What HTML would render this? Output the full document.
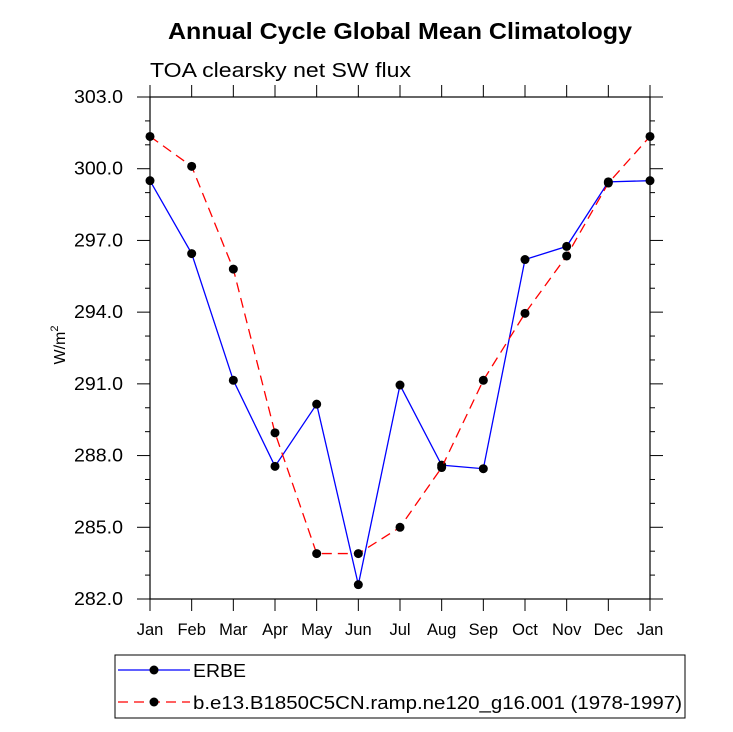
<!DOCTYPE html>
<html><head><meta charset="utf-8"><style>
body{margin:0;background:#fff;}
svg{font-family:"Liberation Sans",sans-serif;}
</style></head><body>
<svg id="chart" width="733" height="727">
<text x="400" y="39" text-anchor="middle" font-size="23" font-weight="bold" textLength="464" lengthAdjust="spacingAndGlyphs">Annual Cycle Global Mean Climatology</text>
<text x="150" y="77" font-size="20" textLength="261" lengthAdjust="spacingAndGlyphs">TOA clearsky net SW flux</text>
<text transform="translate(65,345) rotate(-90)" text-anchor="middle" font-size="16">W/m<tspan dy="-7" font-size="11">2</tspan></text>
<g id="axes"></g>
<g id="series"></g>
<g>
<rect x="115" y="655" width="570" height="63" fill="none" stroke="#000" stroke-width="1"/>
<line x1="118" y1="670" x2="190" y2="670" stroke="#0000ff" stroke-width="1.3"/>
<circle cx="154" cy="670" r="4.5" fill="#000"/>
<text x="193" y="677" font-size="18" textLength="53" lengthAdjust="spacingAndGlyphs">ERBE</text>
<line x1="118" y1="702" x2="190" y2="702" stroke="#ff0000" stroke-width="1.3" stroke-dasharray="10,6"/>
<circle cx="154" cy="702" r="4.5" fill="#000"/>
<text x="193" y="709" font-size="18" textLength="489" lengthAdjust="spacingAndGlyphs">b.e13.B1850C5CN.ramp.ne120_g16.001 (1978-1997)</text>
</g>
</svg>
<script>
const months=["Jan","Feb","Mar","Apr","May","Jun","Jul","Aug","Sep","Oct","Nov","Dec","Jan"];
const erbe=[299.5,296.45,291.15,287.55,290.15,282.6,290.95,287.6,287.45,296.2,296.75,299.45,299.5];
const model=[301.35,300.1,295.8,288.95,283.9,283.9,285.0,287.5,291.15,293.95,296.35,299.4,301.35];
const yTicks=[282,285,288,291,294,297,300,303];
const NS="http://www.w3.org/2000/svg";
const X0=150,X1=650,Y0=97,Y1=599,YMIN=282,YMAX=303;
const xs=i=>X0+(X1-X0)*i/(months.length-1);
const ys=v=>Y1-(v-YMIN)/(YMAX-YMIN)*(Y1-Y0);
function mk(t,a,p){const e=document.createElementNS(NS,t);for(const k in a)e.setAttribute(k,a[k]);p.appendChild(e);return e;}
const ax=document.getElementById('axes');
const frame=mk('rect',{x:X0,y:Y0,width:X1-X0,height:Y1-Y0,fill:'none',stroke:'#000','stroke-width':1.2},ax);


for(let v=YMIN;v<=YMAX;v++){
  const major=yTicks.includes(v);const L=major?13:5;const y=ys(v);
  mk('line',{x1:X0,y1:y,x2:X0-L,y2:y,stroke:'#000'},ax);
  mk('line',{x1:X1,y1:y,x2:X1+L,y2:y,stroke:'#000'},ax);
}
yTicks.forEach(v=>{
  const t=mk('text',{x:X0-27,y:ys(v)+6,'text-anchor':'end','font-size':18,textLength:49,lengthAdjust:'spacingAndGlyphs'},ax);
  t.textContent=v.toFixed(1);
  
  
});
months.forEach((m,i)=>{
  const x=xs(i);
  mk('line',{x1:x,y1:Y1,x2:x,y2:Y1+12,stroke:'#000'},ax);
  mk('line',{x1:x,y1:Y0,x2:x,y2:Y0-12,stroke:'#000'},ax);
  const t=mk('text',{x:x,y:Y1+36,'text-anchor':'middle','font-size':16.5},ax);
  t.textContent=m;
  
  
});
const sg=document.getElementById('series');
function series(vals,color,dash,name){
  const g=mk('g',{},sg);
  
  
  const a={points:vals.map((v,i)=>xs(i)+','+ys(v)).join(' '),fill:'none',stroke:color,'stroke-width':1.3};
  if(dash)a['stroke-dasharray']=dash;
  mk('polyline',a,g);
  vals.forEach((v,i)=>{
    const c=mk('circle',{cx:xs(i),cy:ys(v),r:4.5,fill:'#000'},g);
    
    
  });
}
series(erbe,'#0000ff',null,'erbe-series');
series(model,'#ff0000','10,6','model-series');
</script>
</body></html>
